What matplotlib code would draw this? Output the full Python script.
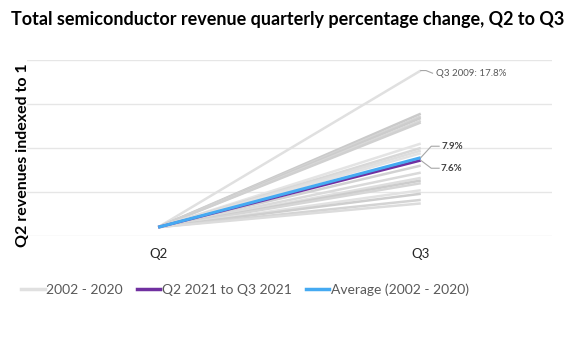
import matplotlib
matplotlib.use('Agg')
from matplotlib import pyplot as plt

plt.rcParams['font.family'] = ['Lato', 'DejaVu Sans']

quarters = ['Q2', 'Q3']

# Q2 -> Q3 growth, percent, one per year 2002 - 2020
history_growth = [17.8, 12.9, 12.6, 12.4, 12.1, 11.9, 9.5, 9.0, 8.7, 8.4,
                  7.0, 6.2, 5.6, 5.3, 5.0, 4.2, 3.8, 3.1, 2.7]
history_shade = ['#e0e0e0', '#cacaca', '#d4d4d4', '#cccccc', '#d8d8d8', '#d0d0d0',
                 '#e4e4e4', '#d8d8d8', '#dedede', '#e2e2e2', '#d2d2d2', '#dadada',
                 '#dedede', '#cccccc', '#d6d6d6', '#e2e2e2', '#cecece', '#d4d4d4',
                 '#dcdcdc']
growth_2021 = 7.6
growth_avg = 7.9

fig = plt.figure(figsize=(5.76, 3.59), dpi=100)
ax = fig.add_axes([27 / 576, 1 - 236 / 359, 525 / 576, 176 / 359])

x = [0, 1]
for g, c in zip(history_growth, history_shade):
    ax.plot(x, [1, 1 + g / 100], color=c, linewidth=1.8, solid_capstyle='butt')
ax.plot(x, [1, 1 + growth_2021 / 100], color='#7030a0', linewidth=2.0, solid_capstyle='butt')
ax.plot(x, [1, 1 + growth_avg / 100], color='#45aaf2', linewidth=2.2, solid_capstyle='butt')

# leader lines + labels
peak = 1 + history_growth[0] / 100
ax.plot([1, 1.02, 1.045], [peak, peak, peak - 0.003], color='#a6a6a6', linewidth=0.8)
ax.text(1.06, peak - 0.003, 'Q3 2009: 17.8%', fontsize=7, color='#595959', va='center')
ya = 1 + growth_avg / 100
ax.plot([1, 1.04, 1.07], [ya, ya + 0.013, ya + 0.013], color='#a6a6a6', linewidth=0.8)
ax.text(1.08, ya + 0.013, '7.9%', fontsize=7, fontweight='bold', color='#404040', va='center')
yb = 1 + growth_2021 / 100
ax.plot([1, 1.04, 1.07], [yb, yb - 0.009, yb - 0.009], color='#a6a6a6', linewidth=0.8)
ax.text(1.075, yb - 0.009, '7.6%', fontsize=7, fontweight='bold', color='#404040', va='center')

ax.set_xlim(-0.5, 1.5)
ax.set_ylim(0.99, 1.19)
ax.set_yticks([0.99, 1.04, 1.09, 1.14, 1.19])
ax.set_yticklabels([])
ax.set_xticks(x)
ax.set_xticklabels(quarters, fontsize=9.5, color='#262626')
ax.tick_params(length=0, pad=9)
ax.grid(axis='y', color='#e6e6e6', linewidth=1)
ax.set_axisbelow(True)
for s in ax.spines.values():
    s.set_visible(False)

fig.text(23 / 576, 1 - 155 / 359, 'Q2 revenues indexed to 1', rotation=90,
         ha='center', va='center', fontsize=11.5, fontweight='bold')

fig.text(0.5, 1 - 19 / 359, 'Total semiconductor revenue quarterly percentage change, Q2 to Q3',
         ha='center', va='center', fontsize=13, fontweight='bold')

handles = [plt.Line2D([], [], color='#e0e0e0', linewidth=2.5),
           plt.Line2D([], [], color='#7030a0', linewidth=2.5),
           plt.Line2D([], [], color='#45aaf2', linewidth=2.5)]
fig.legend(handles, ['2002 - 2020', 'Q2 2021 to Q3 2021', 'Average (2002 - 2020)'],
           loc='center', bbox_to_anchor=(245 / 576, 1 - 290 / 359), ncol=3, frameon=False,
           fontsize=10, labelcolor='#595959', handlelength=1.7, handletextpad=0.1,
           columnspacing=1.0)

fig.savefig('out.png', dpi=100)
